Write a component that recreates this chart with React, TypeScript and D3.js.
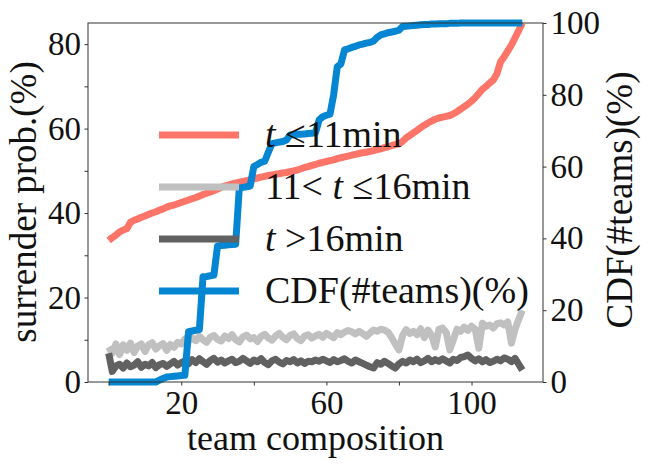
// @ts-nocheck
import { useRef, useEffect } from "react";
import * as d3 from "d3";

// team composition index 0..114, sorted by surrender prob. (t <= 11min)
const earlyProb = [
  33.5, 34.2, 34.8, 35.5, 36.0, 36.3, 37.8, 38.3, 38.6, 39.0,
  39.3, 39.7, 40.0, 40.3, 40.7, 41.0, 41.4, 41.7, 41.9, 42.2,
  42.5, 42.8, 43.1, 43.4, 43.7, 44.0, 44.4, 44.7, 45.0, 45.3,
  45.7, 46.1, 46.4, 46.6, 46.9, 47.1, 47.3, 47.5, 47.7, 47.9,
  48.1, 48.3, 48.5, 48.7, 48.9, 49.0, 49.2, 49.3, 49.5, 49.6,
  49.8, 50.0, 50.2, 50.5, 50.8, 51.0, 51.3, 51.5, 51.8, 52.0,
  52.2, 52.4, 52.6, 52.9, 53.1, 53.3, 53.5, 53.7, 53.9, 54.1,
  54.3, 54.4, 54.6, 54.8, 55.0, 55.2, 55.5, 55.7, 56.0, 56.2,
  56.4, 57.0, 57.8, 58.4, 59.0, 59.6, 60.2, 60.8, 61.3, 61.8,
  62.2, 62.5, 62.7, 62.9, 63.1, 63.5, 64.0, 64.6, 65.2, 65.8,
  66.5, 67.3, 68.3, 69.3, 70.0, 70.8, 71.5, 73.0, 75.8, 77.0,
  78.4, 79.8, 81.5, 83.2, 85.0,
];

// 11 < t <= 16min
const midProb = [
  8.3, 6.8, 9.0, 6.5, 8.8, 7.5, 9.2, 7.0, 8.5, 9.0,
  7.2, 8.8, 9.3, 7.8, 8.6, 9.1, 7.5, 8.9, 8.2, 9.4,
  9.0, 10.2, 9.6, 10.5, 9.8, 10.8, 10.0, 9.4, 10.6, 11.0,
  10.1, 9.7, 10.9, 10.3, 11.2, 10.0, 9.5, 10.7, 11.1, 10.2,
  10.5, 9.6, 10.8, 11.3, 10.4, 9.9, 10.9, 11.5, 10.6, 10.0,
  11.0, 11.4, 10.3, 9.8, 10.9, 11.2, 10.4, 10.9, 11.3, 10.6,
  11.5, 11.0, 10.5, 11.7, 11.2, 11.8, 12.2, 11.9, 11.4, 12.0,
  11.5, 10.8, 11.6, 12.3, 12.0, 12.5, 12.3, 11.8, 10.5, 9.0,
  7.6, 11.0, 12.4, 11.5, 12.0, 11.2, 12.6, 10.5, 12.3, 11.0,
  8.3, 12.5, 12.8, 11.8, 7.6, 10.0, 12.5, 12.0, 13.0, 12.2,
  13.2, 12.5, 8.0, 13.9, 13.2, 13.5, 12.8, 13.8, 14.0, 13.5,
  14.2, 9.2, 12.5, 14.8, 17.0,
];

// t > 16min
const lateProb = [
  6.8, 2.5, 3.8, 4.2, 3.3, 4.5, 3.6, 4.0, 4.8, 3.5,
  4.2, 3.8, 4.6, 3.4, 4.1, 4.4, 3.7, 4.3, 4.9, 4.0,
  4.6, 5.0, 4.3, 5.3, 4.6, 5.5, 4.8, 4.2, 5.1, 5.6,
  4.7, 5.2, 4.5, 5.0, 5.4, 4.6, 4.9, 5.6, 5.0, 4.4,
  5.2, 4.8, 5.5, 4.6, 4.1, 5.0, 5.4, 4.7, 4.3, 5.1,
  4.8, 5.3, 4.5, 5.0, 4.4, 4.9, 4.8, 5.2, 4.9, 5.4,
  5.0, 4.6, 5.3, 4.8, 5.1, 5.5, 4.9, 4.5, 5.2, 4.8,
  4.4, 4.0, 3.6, 3.3, 4.6, 4.2, 4.9, 4.4, 3.8, 3.3,
  4.3, 4.9, 4.5, 5.2, 4.8, 5.4, 4.6, 5.0, 5.6, 4.8,
  5.3, 4.9, 5.5, 5.0, 4.5, 5.4, 5.1, 5.8, 6.0, 6.4,
  5.6, 5.0, 5.5, 4.8, 5.3, 4.6, 4.9, 5.4, 5.0, 5.7,
  5.4, 4.8, 5.6, 4.2, 2.8,
];

// CDF of #teams (right axis, %)
const cdfTeams = [
  0, 0, 0, 0, 0, 0, 0, 0, 0, 0,
  0, 0, 0, 0, 0.5, 1.0, 1.4, 1.5, 1.6, 1.7,
  1.8, 1.9, 14.0, 14.2, 14.4, 14.6, 29.3, 29.4, 29.6, 29.8,
  37.9, 38.0, 38.1, 38.2, 38.3, 38.4, 54.0, 54.2, 54.4, 54.6,
  60.0, 60.6, 61.2, 61.5, 64.0, 66.4, 66.6, 66.8, 67.0, 67.4,
  68.8, 68.9, 69.0, 69.0, 69.1, 69.2, 69.3, 69.4, 73.0, 73.9,
  74.3, 74.6, 80.0, 87.8, 88.6, 92.5, 92.8, 93.2, 93.5, 93.9,
  94.1, 94.4, 94.6, 95.0, 96.0, 96.7, 97.0, 97.3, 97.5, 97.7,
  98.0, 99.0, 99.1, 99.2, 99.3, 99.4, 99.5, 99.6, 99.6, 99.7,
  99.7, 99.8, 99.8, 99.8, 99.9, 99.9, 99.9, 100, 100, 100,
  100, 100, 100, 100, 100, 100, 100, 100, 100, 100,
  100, 100, 100, 100, 100,
];

const leftTicks = [0, 20, 40, 60, 80];
const leftMinor = [10, 30, 50, 70];
const rightTicks = [0, 20, 40, 60, 80, 100];
const xTicks = [20, 60, 100];
const xMinor = [0, 40, 80];

const legendItems = [
  { key: "early", color: "#fd7468", parts: [["t", true], [" \u226411min", false]] },
  { key: "mid", color: "#c0c0c0", parts: [["11< ", false], ["t", true], [" \u226416min", false]] },
  { key: "late", color: "#616161", parts: [["t", true], [" >16min", false]] },
  { key: "cdf", color: "#0586d3", parts: [["CDF(#teams)(%)", false]] },
];

const FONT = "'Liberation Serif', 'Times New Roman', serif";

const App = () => {
  const svgRef = useRef();
  const width = 648;
  const height = 471;

  useEffect(() => {
    const svg = d3.select(svgRef.current);
    svg.selectAll("*").remove();

    const margin = { top: 23, right: 105, bottom: 89, left: 88 };
    const x = d3.scaleLinear().domain([-5.7, 119.7]).range([margin.left, width - margin.right]);
    const yL = d3.scaleLinear().domain([0, 85]).range([height - margin.bottom, margin.top]);
    const yR = d3.scaleLinear().domain([0, 100]).range([height - margin.bottom, margin.top]);

    const idx = d3.range(earlyProb.length);

    const lineL = (vals) =>
      d3.line().x((d, i) => x(i)).y((d) => yL(d))(vals);

    const drawLine = (path, color) =>
      svg
        .append("path")
        .attr("d", path)
        .attr("fill", "none")
        .attr("stroke", color)
        .attr("stroke-width", 7)
        .attr("stroke-linejoin", "round")
        .attr("stroke-linecap", "butt");

    drawLine(lineL(earlyProb), legendItems[0].color);
    drawLine(lineL(midProb), legendItems[1].color);
    drawLine(lineL(lateProb), legendItems[2].color);
    drawLine(
      d3.line().x((d) => x(d)).y((d) => yR(cdfTeams[d]))(idx),
      legendItems[3].color
    );

    // frame
    svg
      .append("rect")
      .attr("x", margin.left)
      .attr("y", margin.top)
      .attr("width", width - margin.left - margin.right)
      .attr("height", height - margin.top - margin.bottom)
      .attr("fill", "none")
      .attr("stroke", "#333")
      .attr("stroke-width", 1);

    const styleAxis = (g) => {
      g.select(".domain").remove();
      g.selectAll(".tick line").attr("stroke", "#333");
      g.selectAll(".tick text").attr("font-family", FONT).attr("font-size", 33).attr("fill", "#111");
    };

    svg
      .append("g")
      .attr("transform", `translate(${margin.left},0)`)
      .call(d3.axisLeft(yL).tickValues(leftTicks).tickSize(3.5).tickPadding(3.5))
      .call(styleAxis);
    svg
      .append("g")
      .attr("transform", `translate(${margin.left},0)`)
      .call(d3.axisLeft(yL).tickValues(leftMinor).tickSize(3.5).tickFormat(""))
      .call(styleAxis);

    svg
      .append("g")
      .attr("transform", `translate(${width - margin.right},0)`)
      .call(d3.axisRight(yR).tickValues(rightTicks).tickSize(3.5).tickPadding(4))
      .call(styleAxis);

    svg
      .append("g")
      .attr("transform", `translate(0,${height - margin.bottom})`)
      .call(d3.axisBottom(x).tickValues(xTicks).tickSize(3.5).tickPadding(5.5))
      .call(styleAxis);
    svg
      .append("g")
      .attr("transform", `translate(0,${height - margin.bottom})`)
      .call(d3.axisBottom(x).tickValues(xMinor).tickSize(3.5).tickFormat(""))
      .call(styleAxis);

    // axis titles
    svg
      .append("text")
      .attr("x", (margin.left + width - margin.right) / 2)
      .attr("y", 450)
      .attr("text-anchor", "middle")
      .attr("font-family", FONT)
      .attr("font-size", 36)
      .attr("fill", "#111")
      .text("team composition");

    svg
      .append("text")
      .attr("transform", `translate(36,202) rotate(-90)`)
      .attr("text-anchor", "middle")
      .attr("font-family", FONT)
      .attr("font-size", 37)
      .attr("fill", "#111")
      .text("surrender prob.(%)");

    svg
      .append("text")
      .attr("transform", `translate(632,200) rotate(-90)`)
      .attr("text-anchor", "middle")
      .attr("font-family", FONT)
      .attr("font-size", 37)
      .attr("fill", "#111")
      .text("CDF(#teams)(%)");

    // legend
    const legend = svg.append("g");
    legendItems.forEach((item, i) => {
      const cy = 135 + i * 52;
      legend
        .append("line")
        .attr("x1", 159)
        .attr("x2", 239)
        .attr("y1", cy)
        .attr("y2", cy)
        .attr("stroke", item.color)
        .attr("stroke-width", 7);
      const t = legend
        .append("text")
        .attr("x", 265)
        .attr("y", cy + 12)
        .attr("font-family", FONT)
        .attr("font-size", 38)
        .attr("fill", "#111");
      item.parts.forEach(([s, it]) => {
        t.append("tspan")
          .attr("font-style", it ? "italic" : "normal")
          .attr("xml:space", "preserve")
          .text(s);
      });
    });
  }, []);

  return (
    <svg
      ref={svgRef}
      width={width}
      height={height}
      style={{ position: "absolute", left: 0, top: 0, background: "#fff" }}
    ></svg>
  );
};

export default App;
